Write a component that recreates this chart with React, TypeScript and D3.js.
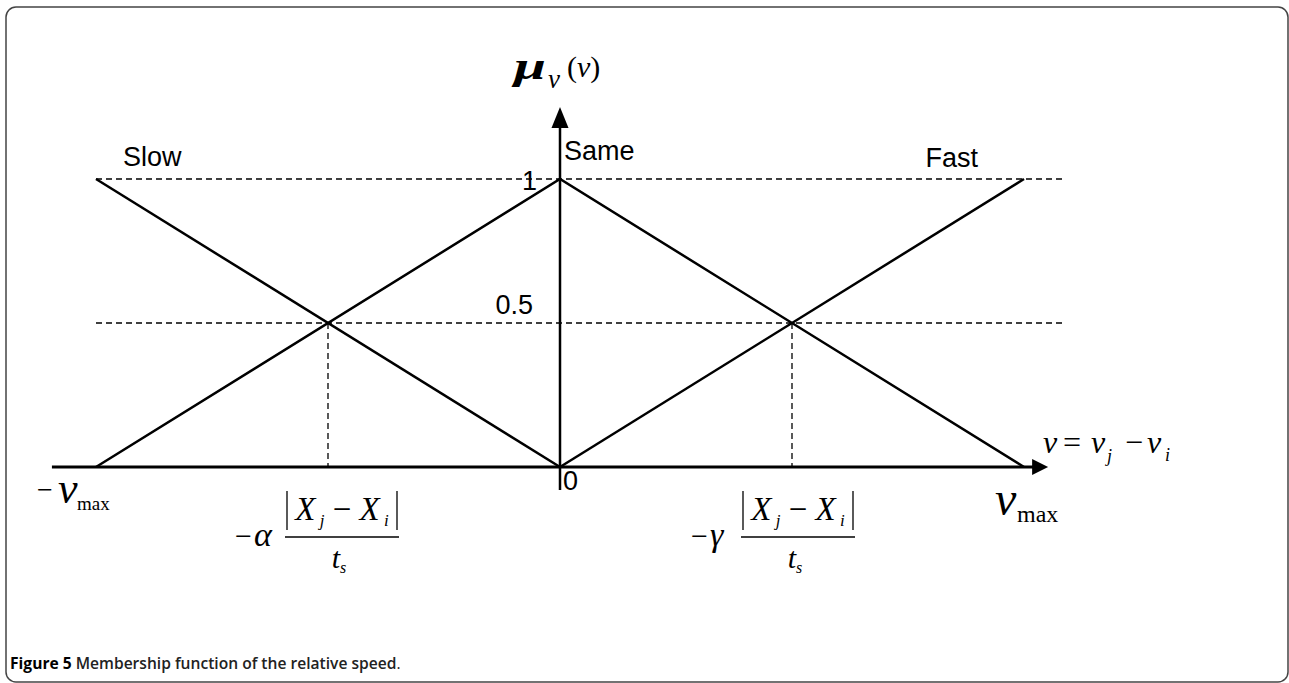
import React from "react";
import * as d3 from "d3";

// membership functions, x in units of v / v_max
const categories = ["Slow", "Same", "Fast"];
const slowPts: [number, number][] = [[-1, 1], [0, 0]];
const samePts: [number, number][] = [[-1, 0], [0, 1], [1, 0]];
const fastPts: [number, number][] = [[0, 0], [1, 1]];
const levels = [1, 0.5];
const levelLabels = ["1", "0.5"];
const crossings = [-0.5, 0.5];
const xExtent = [-1.095, 1.052];
const yExtent = [-0.08, 1.25];

const W = 1289;
const H = 683;
const serif = "'Liberation Serif', 'Times New Roman', serif";
const sans = "'Liberation Sans', Arial, sans-serif";

export default function App() {
  const x = d3.scaleLinear().domain([-1, 1]).range([96, 1024]);
  const y = d3.scaleLinear().domain([0, 1]).range([467, 179]);
  const line = d3
    .line<[number, number]>()
    .x((d) => x(d[0]))
    .y((d) => y(d[1]));

  const ax0 = x(xExtent[0]);
  const ax1 = x(xExtent[1]);
  const ay0 = y(yExtent[0]);
  const ay1 = y(yExtent[1]);
  const dashEnd = x(1.086);

  // fraction label  -k |Xj - Xi| / ts
  const frac = (cx: number, greek: string, key: string) => (
    <g key={key} fontFamily={serif} fill="#000">
      <text x={cx - 107} y={546} fontSize={30}>−</text>
      <text x={cx - 88} y={546} fontSize={34} fontStyle="italic">{greek}</text>
      <line x1={cx - 55} x2={cx - 55} y1={491} y2={530} stroke="#000" strokeWidth={1.3} />
      <line x1={cx + 55} x2={cx + 55} y1={491} y2={530} stroke="#000" strokeWidth={1.3} />
      <text x={cx} y={520} fontSize={33} textAnchor="middle">
        <tspan fontStyle="italic">X</tspan>
        <tspan fontStyle="italic" fontSize={17} dy={6}> j</tspan>
        <tspan dy={-6}> − </tspan>
        <tspan fontStyle="italic">X</tspan>
        <tspan fontStyle="italic" fontSize={17} dy={6}> i</tspan>
      </text>
      <line x1={cx - 57} x2={cx + 57} y1={537} y2={537} stroke="#000" strokeWidth={1.3} />
      <text x={cx - 3} y={568} fontSize={30} fontStyle="italic" textAnchor="middle">
        <tspan>t</tspan>
        <tspan fontSize={16} dy={5}>s</tspan>
      </text>
    </g>
  );

  return (
    <svg
      width={W}
      height={H}
      style={{ position: "absolute", left: 0, top: 0, display: "block", background: "#fff" }}
    >
      <rect x={6} y={7} width={1282} height={675} rx={10} fill="#fff" stroke="#444" strokeWidth={1.5} />

      {/* reference dashed lines */}
      {levels.map((l) => (
        <line
          key={"lv" + l}
          x1={x(-1)}
          x2={dashEnd}
          y1={y(l)}
          y2={y(l)}
          stroke="#000"
          strokeWidth={1.3}
          strokeDasharray="6,4"
        />
      ))}
      {crossings.map((c) => (
        <line
          key={"cr" + c}
          x1={x(c)}
          x2={x(c)}
          y1={y(0.5)}
          y2={y(0)}
          stroke="#000"
          strokeWidth={1.3}
          strokeDasharray="6,4"
        />
      ))}

      {/* axes */}
      <line x1={ax0} x2={ax1 - 10} y1={y(0)} y2={y(0)} stroke="#000" strokeWidth={3} />
      <path d={`M${ax1},${y(0)} L${ax1 - 16},${y(0) - 8} L${ax1 - 16},${y(0) + 8} Z`} fill="#000" />
      <line x1={x(0)} x2={x(0)} y1={ay0} y2={ay1 + 10} stroke="#000" strokeWidth={2.5} />
      <path d={`M${x(0)},${ay1} L${x(0) - 8.5},${ay1 + 21} L${x(0) + 8.5},${ay1 + 21} Z`} fill="#000" />

      {/* membership functions */}
      {[slowPts, samePts, fastPts].map((pts, i) => (
        <path key={categories[i]} d={line(pts) || ""} fill="none" stroke="#000" strokeWidth={2.5} />
      ))}

      {/* category labels */}
      <g fontFamily={sans} fontSize={27} fill="#000">
        <text x={123} y={166}>{categories[0]}</text>
        <text x={x(0) + 4} y={160}>{categories[1]}</text>
        <text x={978} y={167} textAnchor="end">{categories[2]}</text>
        {levels.map((l, i) => (
          <text key={"ll" + l} x={i === 0 ? 537 : 533} y={i === 0 ? 190 : 314} textAnchor="end">
            {levelLabels[i]}
          </text>
        ))}
        <text x={x(0) + 3} y={490}>0</text>
      </g>

      {/* y axis title */}
      <g fontFamily={serif} fill="#000">
        <text transform="translate(514,79) scale(1.55,1)" fontSize={37} fontStyle="italic" fontWeight="bold">μ</text>
        <text x={548} y={88} fontSize={27} fontStyle="italic">v</text>
        <text x={567} y={77} fontSize={30}>
          <tspan>(</tspan>
          <tspan fontStyle="italic">v</tspan>
          <tspan>)</tspan>
        </text>
      </g>

      {/* x axis labels */}
      <g fontFamily={serif} fill="#000">
        <text x={1043} y={453} fontSize={32} fontStyle="italic">v</text>
        <text x={1063} y={453} fontSize={32}>=</text>
        <text x={1091} y={453} fontSize={32} fontStyle="italic">v</text>
        <text x={1107} y={462} fontSize={18} fontStyle="italic">j</text>
        <text x={1125} y={453} fontSize={32}>−</text>
        <text x={1147} y={453} fontSize={32} fontStyle="italic">v</text>
        <text x={1165} y={461} fontSize={18} fontStyle="italic">i</text>

        <text x={37} y={499} fontSize={28}>−</text>
        <text x={58} y={503} fontSize={44} fontStyle="italic">v</text>
        <text x={77} y={510} fontSize={19}>max</text>

        <text x={995} y={515} fontSize={48} fontStyle="italic">v</text>
        <text x={1017} y={522} fontSize={24}>max</text>
      </g>

      {frac(342, "α", "fa")}
      {frac(798, "γ", "fg")}

      {/* caption */}
      <text x={10} y={669} fontFamily="'Open Sans', sans-serif" fontSize={15.6} fill="#222">
        <tspan fontWeight={700} fill="#000">Figure 5</tspan>
        <tspan fontWeight={600}> Membership function of the relative speed</tspan>
        <tspan fontWeight={400}>.</tspan>
      </text>
    </svg>
  );
}
